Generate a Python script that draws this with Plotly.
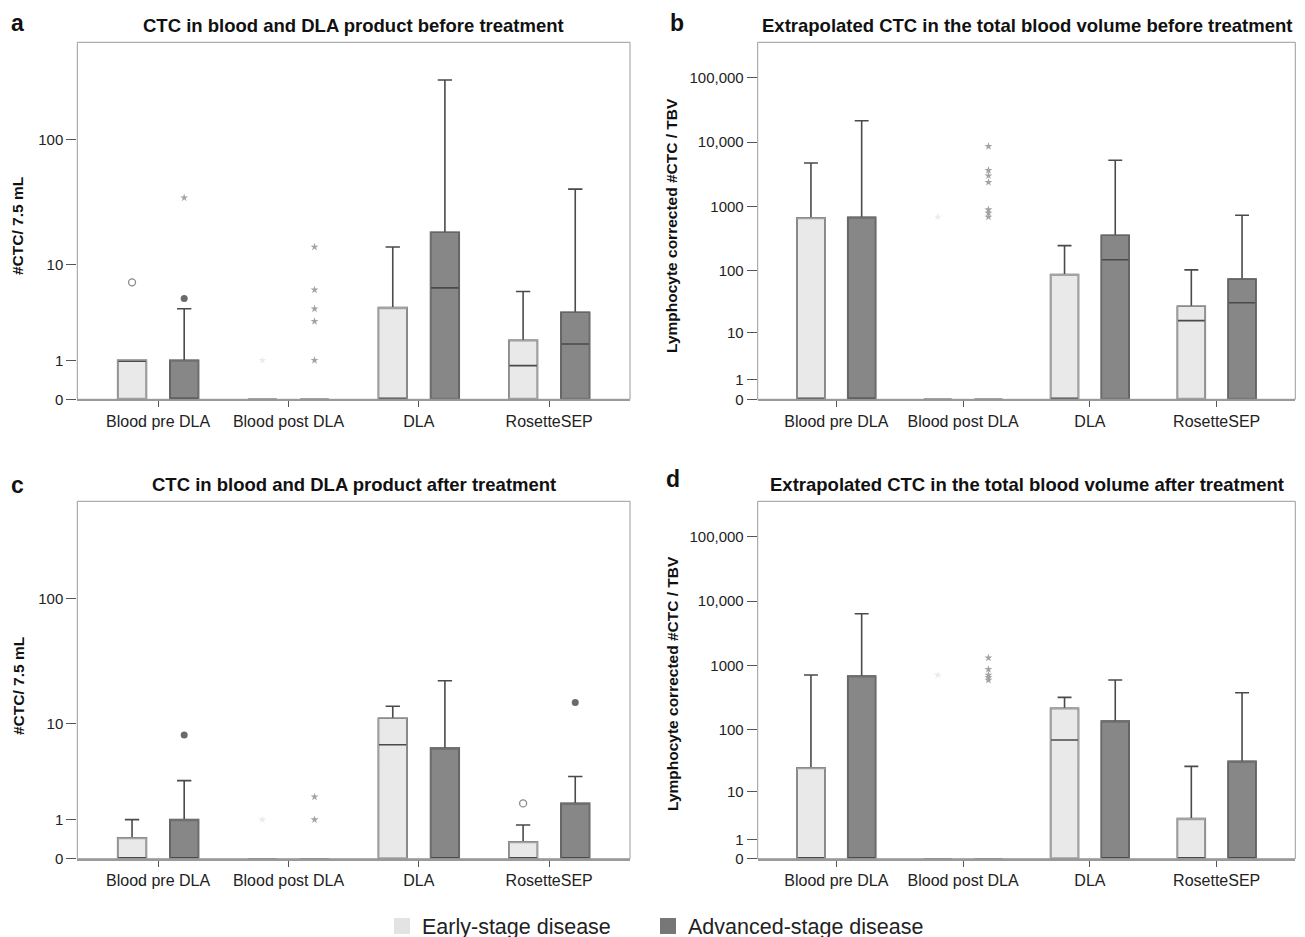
import numpy as np
import plotly.graph_objects as go
from plotly.subplots import make_subplots

categories = ["Blood pre DLA", "Blood post DLA", "DLA", "RosetteSEP"]
group_names = ["Early-stage disease", "Advanced-stage disease"]

# ---------- Panel a: CTC / 7.5 mL before treatment ----------
a_early_q1 = [0, 0, 0, 0]
a_early_median = [1, 0, 0, 0.82]
a_early_q3 = [1, 0, 4.1, 1.85]
a_early_upper = [1, 0, 14, 5.8]
a_adv_q1 = [0, 0, 0, 0]
a_adv_median = [0, 0, 6.25, 1.67]
a_adv_q3 = [1, 0, 18.5, 3.7]
a_adv_upper = [4, 0, 291, 41]
a_early_mild_cat = [0]
a_early_mild_val = [7]
a_early_ext_cat = [1]
a_early_ext_val = [1]
a_adv_mild_cat = [0]
a_adv_mild_val = [5]
a_adv_ext_cat = [0, 1, 1, 1, 1, 1]
a_adv_ext_val = [35, 14, 6, 4, 3, 1]

# ---------- Panel b: extrapolated CTC / TBV before treatment ----------
b_early_q1 = [0, 0, 0, 0]
b_early_median = [0, 0, 0, 15.7]
b_early_q3 = [666, 0, 86, 27]
b_early_upper = [4730, 0, 244, 102]
b_adv_q1 = [0, 0, 0, 0]
b_adv_median = [0, 0, 147, 30.8]
b_adv_q3 = [677, 0, 354, 73]
b_adv_upper = [21500, 0, 5210, 727]
b_early_mild_cat = []
b_early_mild_val = []
b_early_ext_cat = [1]
b_early_ext_val = [684]
b_adv_mild_cat = []
b_adv_mild_val = []
b_adv_ext_cat = [1, 1, 1, 1, 1, 1, 1]
b_adv_ext_val = [8600, 3640, 3000, 2370, 889, 789, 684]

# ---------- Panel c: CTC / 7.5 mL after treatment ----------
c_early_q1 = [0, 0, 0, 0]
c_early_median = [0, 0, 6.57, 0]
c_early_q3 = [0.45, 0, 11.1, 0.35]
c_early_upper = [1, 0, 14, 0.82]
c_adv_q1 = [0, 0, 0, 0]
c_adv_median = [0, 0, 0, 0]
c_adv_q3 = [1, 0, 6.13, 1.67]
c_adv_upper = [3, 0, 22.6, 3.3]
c_early_mild_cat = [3]
c_early_mild_val = [1.67]
c_early_ext_cat = [1]
c_early_ext_val = [1]
c_adv_mild_cat = [0, 3]
c_adv_mild_val = [8, 15]
c_adv_ext_cat = [1, 1]
c_adv_ext_val = [1, 2]

# ---------- Panel d: extrapolated CTC / TBV after treatment ----------
d_early_q1 = [0, 0, 0, 0]
d_early_median = [0, 0, 68.7, 0]
d_early_q3 = [24.9, 0, 215, 3.2]
d_early_upper = [712, 0, 320, 26.2]
d_adv_q1 = [0, 0, 0, 0]
d_adv_median = [0, 0, 0, 0]
d_adv_q3 = [686, 0, 136, 31.5]
d_adv_upper = [6370, 0, 595, 377]
d_early_mild_cat = []
d_early_mild_val = []
d_early_ext_cat = [1]
d_early_ext_val = [712]
d_adv_mild_cat = []
d_adv_mild_val = []
d_adv_ext_cat = [1, 1, 1, 1, 1]
d_adv_ext_val = [1320, 872, 712, 655, 594]

# axis ticks
small_ticks = [0, 1, 10, 100]
small_ticktext = ["0", "1", "10", "100"]
small_ymax = 570
large_ticks = [0, 1, 10, 100, 1000, 10000, 100000]
large_ticktext = ["0", "1", "10", "100", "1000", "10,000", "100,000"]
large_ymax = 356000

panel_titles = [
    "CTC in blood and DLA product before treatment",
    "Extrapolated CTC in the total blood volume before treatment",
    "CTC in blood and DLA product after treatment",
    "Extrapolated CTC in the total blood volume after treatment",
]
panel_letters = ["a", "b", "c", "d"]
y_titles = ["#CTC/ 7.5 mL", "Lymphocyte corrected #CTC / TBV",
            "#CTC/ 7.5 mL", "Lymphocyte corrected #CTC / TBV"]


def t(v):
    return list(np.log10(1.0 + np.asarray(v, dtype=float)))


# style
EARLY_FILL = "#e9e9e9"
ADV_FILL = "#878787"
EARLY_BORDER = "#a3a3a3"
ADV_BORDER = "#6f6f6f"
WHISKER = "#4a4a4a"
OFFSET = 0.2
BOXW = 0.22

fig = make_subplots(rows=2, cols=2)

panels = [
    (1, 1, (a_early_q1, a_early_median, a_early_q3, a_early_upper,
            a_early_mild_cat, a_early_mild_val, a_early_ext_cat, a_early_ext_val),
     (a_adv_q1, a_adv_median, a_adv_q3, a_adv_upper,
      a_adv_mild_cat, a_adv_mild_val, a_adv_ext_cat, a_adv_ext_val)),
    (1, 2, (b_early_q1, b_early_median, b_early_q3, b_early_upper,
            b_early_mild_cat, b_early_mild_val, b_early_ext_cat, b_early_ext_val),
     (b_adv_q1, b_adv_median, b_adv_q3, b_adv_upper,
      b_adv_mild_cat, b_adv_mild_val, b_adv_ext_cat, b_adv_ext_val)),
    (2, 1, (c_early_q1, c_early_median, c_early_q3, c_early_upper,
            c_early_mild_cat, c_early_mild_val, c_early_ext_cat, c_early_ext_val),
     (c_adv_q1, c_adv_median, c_adv_q3, c_adv_upper,
      c_adv_mild_cat, c_adv_mild_val, c_adv_ext_cat, c_adv_ext_val)),
    (2, 2, (d_early_q1, d_early_median, d_early_q3, d_early_upper,
            d_early_mild_cat, d_early_mild_val, d_early_ext_cat, d_early_ext_val),
     (d_adv_q1, d_adv_median, d_adv_q3, d_adv_upper,
      d_adv_mild_cat, d_adv_mild_val, d_adv_ext_cat, d_adv_ext_val)),
]


def add_group(row, col, data, offset, fill, border, mild_style, ext_color):
    q1, med, q3, up, mcat, mval, ecat, evals = data
    xs = [i + offset for i in range(len(categories))]
    fig.add_trace(go.Box(
        x=xs, q1=t(q1), median=t(med), q3=t(q3), lowerfence=t(q1), upperfence=t(up),
        width=BOXW, fillcolor=fill, line=dict(color=WHISKER, width=1.6),
        whiskerwidth=0.5, boxpoints=False, showlegend=False, hoverinfo="skip"),
        row=row, col=col)
    # lighter box outline on top (keeps dark median/whiskers)
    ox, oq1, oq3, omed = [], [], [], []
    for i in range(len(categories)):
        if q3[i] > q1[i]:
            ox.append(xs[i])
            oq1.append(q1[i])
            oq3.append(q3[i])
            omed.append(q1[i] if med[i] != q1[i] else q3[i])
    if ox:
        fig.add_trace(go.Box(
            x=ox, q1=t(oq1), median=t(omed), q3=t(oq3), lowerfence=t(oq1), upperfence=t(oq3),
            width=BOXW, fillcolor="rgba(0,0,0,0)", line=dict(color=border, width=1.1),
            whiskerwidth=0, boxpoints=False, showlegend=False, hoverinfo="skip"),
            row=row, col=col)
    if mval:
        fig.add_trace(go.Scatter(
            x=[c + offset for c in mcat], y=t(mval), mode="markers",
            marker=mild_style, showlegend=False, hoverinfo="skip", cliponaxis=False),
            row=row, col=col)
    if evals:
        fig.add_trace(go.Scatter(
            x=[c + offset for c in ecat], y=t(evals), mode="markers",
            marker=dict(symbol="star", size=6, color=ext_color, line=dict(width=0)),
            showlegend=False, hoverinfo="skip", cliponaxis=False),
            row=row, col=col)


early_mild = dict(symbol="circle-open", size=7, color="#8a8a8a", line=dict(width=1.3))
adv_mild = dict(symbol="circle", size=7, color="#6a6a6a", line=dict(width=0))

for row, col, early, adv in panels:
    add_group(row, col, early, -OFFSET, EARLY_FILL, EARLY_BORDER, early_mild, "#ececec")
    add_group(row, col, adv, OFFSET, ADV_FILL, ADV_BORDER, adv_mild, "#a3a3a3")

# legend entries (each in its own legend box so they can be spaced like the reference)
fig.add_trace(go.Scatter(x=[None], y=[None], mode="markers", name=group_names[0],
                         marker=dict(symbol="square", size=20, color="#e3e3e3"),
                         legend="legend"), row=1, col=1)
fig.add_trace(go.Scatter(x=[None], y=[None], mode="markers", name=group_names[1],
                         marker=dict(symbol="square", size=20, color="#777777"),
                         legend="legend2"), row=1, col=1)

# the page puts the figure 8 px in from the window corner; width fits the window exactly,
# height runs a little past the window so the bottom legend is not squeezed
PAGE = 8
W, H = 1305 - 2 * PAGE, 950


def fx(x):
    return (x - PAGE) / W


def fy(y):
    return 1 - (y - PAGE) / H


left_dom = [fx(77.3), fx(630.0)]
right_dom = [fx(757.7), fx(1295.3)]
top_dom = [fy(399.3), fy(42.3)]
bot_dom = [fy(858.7), fy(501.3)]

FONT = "Liberation Sans, Arial, Helvetica, sans-serif"
axis_common_x = dict(
    range=[-0.62, 3.62], tickvals=list(range(len(categories))), ticktext=categories,
    ticks="outside", ticklen=6, tickcolor="#555", tickwidth=1,
    showline=True, linecolor="#9a9a9a", linewidth=2, mirror=False,
    showgrid=False, zeroline=False, tickfont=dict(size=16, color="#222", family=FONT),
    layer="below traces", fixedrange=True, automargin=False)

shapes = []
for idx, (row, col, _, _) in enumerate(panels):
    small = (col == 1)
    ticks = small_ticks if small else large_ticks
    ttext = small_ticktext if small else large_ticktext
    ymax = small_ymax if small else large_ymax
    fig.update_xaxes(domain=left_dom if col == 1 else right_dom, row=row, col=col, **axis_common_x)
    fig.update_yaxes(
        domain=top_dom if row == 1 else bot_dom, row=row, col=col,
        range=[0, t([ymax])[0]], tickvals=t(ticks), ticktext=ttext,
        ticks="outside", ticklen=10, tickcolor="#555", tickwidth=1,
        showline=False,
        showgrid=False, zeroline=False, automargin=False,
        tickfont=dict(size=15, color="#222", family=FONT),
        fixedrange=True)
    n = idx + 1
    xr = "x domain" if n == 1 else "x%d domain" % n
    yr = "y domain" if n == 1 else "y%d domain" % n
    shapes.append(dict(type="rect", xref=xr, yref=yr, x0=0, x1=1, y0=0, y1=1,
                       line=dict(color="#9a9a9a", width=1), layer="above"))

annotations = []
title_y = [25, 25, 484, 484]
letter_top = [8, 8, 470, 464]
letter_x = [9, 668, 9, 664]
ytitle_pos = [(18, 226), (672, 226), (18, 686), (672, 684)]
for idx, (row, col, _, _) in enumerate(panels):
    dom = left_dom if col == 1 else right_dom
    annotations.append(dict(
        text="<b>%s</b>" % panel_titles[idx], x=(dom[0] + dom[1]) / 2, y=fy(title_y[idx]),
        xref="paper", yref="paper", xanchor="center", yanchor="middle", showarrow=False,
        font=dict(size=18.5, color="#111", family=FONT)))
    annotations.append(dict(
        text="<b>%s</b>" % panel_letters[idx], x=fx(letter_x[idx]), y=fy(letter_top[idx]),
        xref="paper", yref="paper", xanchor="left", yanchor="top", showarrow=False,
        font=dict(size=23, color="#111", family=FONT)))
    tx, ty = ytitle_pos[idx]
    annotations.append(dict(
        text="<b>%s</b>" % y_titles[idx], x=fx(tx), y=fy(ty), textangle=-90,
        xref="paper", yref="paper", xanchor="center", yanchor="middle", showarrow=False,
        font=dict(size=15.5, color="#111", family=FONT)))

legend_common = dict(orientation="h", xanchor="left", yanchor="middle", y=fy(926),
                     font=dict(size=21.5, color="#222", family=FONT), itemsizing="trace",
                     bgcolor="rgba(0,0,0,0)")

fig.update_layout(
    width=W, height=H, margin=dict(l=0, r=0, t=0, b=0),
    paper_bgcolor="white", plot_bgcolor="white",
    font=dict(family=FONT, color="#222"),
    annotations=annotations, shapes=shapes,
    showlegend=True,
    legend=dict(x=fx(382), **legend_common),
    legend2=dict(x=fx(648), **legend_common),
)

fig.write_html("out.html")
